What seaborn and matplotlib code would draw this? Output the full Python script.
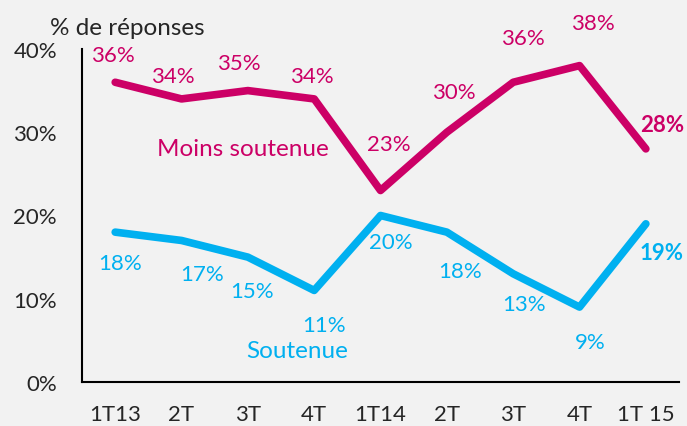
"""
Trend chart of survey answers: share of 'Moins soutenue' and 'Soutenue' per quarter.
"""

import numpy as np
import pandas as pd
import matplotlib
matplotlib.use('Agg')  # Use non-interactive backend
import matplotlib.pyplot as plt
import seaborn as sns

MAGENTA = '#CC0066'
CYAN = '#00B0F0'

def build_data() -> pd.DataFrame:
    """
    Build the quarterly answer shares.

    Returns:
        Long DataFrame with quarter index, series name and share in %
    """
    quarters = ['1T13', '2T', '3T', '4T', '1T14', '2T', '3T', '4T', '1T 15']
    moins = [36, 34, 35, 34, 23, 30, 36, 38, 28]
    soutenue = [18, 17, 15, 11, 20, 18, 13, 9, 19]
    df = pd.DataFrame({
        'pos': list(range(len(quarters))) * 2,
        'serie': ['Moins soutenue'] * len(quarters) + ['Soutenue'] * len(quarters),
        'share': moins + soutenue,
    })
    return df, quarters

def plot_trend(df: pd.DataFrame, quarters: list) -> None:
    """
    Draw both series with value labels and save to out.png.

    Args:
        df: Long DataFrame of shares
        quarters: Category labels for the x axis
    """
    sns.set_style('white')
    plt.rcParams['font.family'] = ['Lato', 'DejaVu Sans']
    fs = 16
    fs_text = 17.5  # words run a bit wider in the original

    fig = plt.figure(figsize=(6.87, 4.27), dpi=100, facecolor='#F2F2F2')
    ax = fig.add_axes([0.1194, 0.103, 0.869, 0.780])
    ax.set_facecolor('#F2F2F2')

    sns.lineplot(data=df, x='pos', y='share', hue='serie',
                 palette={'Moins soutenue': MAGENTA, 'Soutenue': CYAN},
                 linewidth=5.5, legend=False, ax=ax)
    for line in ax.get_lines():
        line.set_solid_capstyle('round')
        line.set_solid_joinstyle('round')

    # Value labels (offsets in pixels)
    moins = df[df.serie == 'Moins soutenue']['share'].tolist()
    sout = df[df.serie == 'Soutenue']['share'].tolist()
    m_off = [(-2, 27), (-9, 23), (-9, 28), (-2, 23), (8, 47), (7, 40), (10, 44), (13, 43), (16, 24)]
    s_off = [(5, -31), (21, -34), (4, -34), (10, -35), (10, -27), (13, -39), (11, -30), (11, -35), (16, -29)]
    n = len(quarters)
    for i in range(n):
        last = i == n - 1
        ax.annotate(f'{moins[i]}%', (i, moins[i]), xytext=m_off[i], textcoords='offset pixels',
                    ha='center', va='center', color=MAGENTA, fontsize=fs,
                    fontweight='bold' if last else 'normal')
        ax.annotate(f'{sout[i]}%', (i, sout[i]), xytext=s_off[i], textcoords='offset pixels',
                    ha='center', va='center', color=CYAN, fontsize=fs,
                    fontweight='bold' if last else 'normal')

    ax.text(1.92, 28.1, 'Moins soutenue', color=MAGENTA, fontsize=fs_text, ha='center', va='center')
    ax.text(2.75, 3.84, 'Soutenue', color=CYAN, fontsize=fs_text, ha='center', va='center')

    # Axes styling
    ax.set_xlim(-0.5, n - 0.5)
    ax.set_ylim(0, 40)
    ax.set_yticks([0, 10, 20, 30, 40])
    ax.set_yticklabels([f'{v}%' for v in [0, 10, 20, 30, 40]])
    ax.set_xticks(range(n))
    ax.set_xticklabels(quarters)
    ax.set_xticks(np.arange(-0.5, n, 1), minor=True)
    ax.tick_params(axis='x', which='major', length=0, pad=16, labelsize=fs)
    ax.tick_params(axis='x', which='minor', length=6, width=1.5, direction='out')
    ax.tick_params(axis='y', length=6, width=1.5, direction='out', pad=12, labelsize=fs)
    ax.set_xlabel('')
    ax.set_ylabel('')
    for side in ['top', 'right']:
        ax.spines[side].set_visible(False)
    for side in ['left', 'bottom']:
        ax.spines[side].set_color('black')
        ax.spines[side].set_linewidth(1.5)

    fig.text(0.073, 0.934, '% de réponses', fontsize=fs_text, ha='left', va='center')

    fig.savefig('out.png', dpi=100, facecolor=fig.get_facecolor())
    plt.close()

df, quarters = build_data()
plot_trend(df, quarters)
